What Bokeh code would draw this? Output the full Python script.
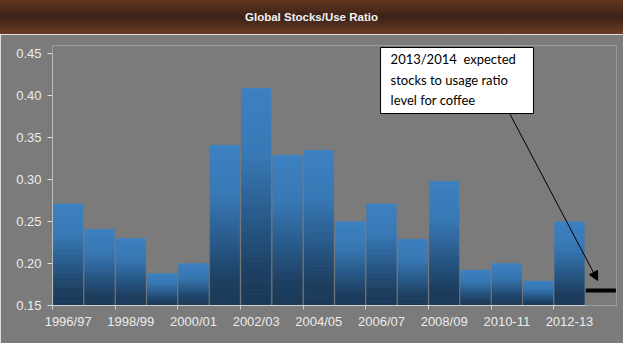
import numpy as np
from bokeh.plotting import figure
from bokeh.models import (ColumnDataSource, FixedTicker, NumeralTickFormatter, Div,
                          BoxAnnotation, Label, Arrow, NormalHead)
from bokeh.layouts import column
from bokeh.embed import file_html
from bokeh.resources import INLINE

# ---- data ----
seasons = ["1996/97", "1997/98", "1998/99", "1999/00", "2000/01", "2001/02",
           "2002/03", "2003/04", "2004/05", "2005/06", "2006/07", "2007/08",
           "2008/09", "2009-10", "2010-11", "2011-12", "2012-13"]
ratios = [0.271, 0.241, 0.230, 0.188, 0.200, 0.341, 0.409, 0.329, 0.335,
          0.250, 0.271, 0.229, 0.298, 0.192, 0.200, 0.179, 0.250]
forecast_season = "2013/14"
forecast_ratio = 0.168
y_ticks = [0.15, 0.20, 0.25, 0.30, 0.35, 0.40, 0.45]
title_text = "Global Stocks/Use Ratio"
note_lines = ["2013/2014\u00a0 expected", "stocks to usage ratio", "level for coffee"]

BASE = 0.15
n = len(seasons)

# ---- gradient bars (sliced quads, colours interpolated per bar) ----
stops_t = np.array([0.0, 0.3, 0.6, 0.85, 1.0])          # fraction from top
stops_c = np.array([[60, 129, 194], [56, 121, 183], [40, 90, 138],
                    [29, 63, 97], [27, 57, 88]], dtype=float)
NS = 40
lefts, rights, bottoms, tops, colors = [], [], [], [], []
for i, v in enumerate(ratios):
    edges = np.linspace(BASE, v, NS + 1)
    for k in range(NS):
        frac_top = 1 - (k + 0.5) / NS
        rgb = [np.interp(frac_top, stops_t, stops_c[:, c]) for c in range(3)]
        colors.append("#%02x%02x%02x" % tuple(int(round(x)) for x in rgb))
        lefts.append(i + 0.03)
        rights.append(i + 0.97)
        bottoms.append(edges[k])
        tops.append(edges[k + 1])
src = ColumnDataSource(dict(left=lefts, right=rights, bottom=bottoms, top=tops, color=colors))

BG = "#7b7b7b"
p = figure(width=623, height=309, output_backend="svg", toolbar_location=None,
           x_range=(0, n + 1), y_range=(0.15, 0.46),
           min_border_left=52, min_border_right=7, min_border_top=11, min_border_bottom=38)
p.background_fill_color = BG
p.border_fill_color = BG
p.outline_line_color = None
p.grid.visible = False

p.quad(left="left", right="right", bottom="bottom", top="top", source=src,
       fill_color="color", line_color="color", line_width=0.6)

# forecast level marker
fsrc = ColumnDataSource(dict(x0=[n + 0.02], x1=[n + 0.98], y=[forecast_ratio]))
p.segment(x0="x0", y0="y", x1="x1", y1="y", source=fsrc, line_color="black", line_width=4)

# ---- axes ----
LBL = "#ececec"
yax = p.yaxis[0]
yax.ticker = FixedTicker(ticks=y_ticks)
yax.formatter = NumeralTickFormatter(format="0.00")
yax.bounds = (0.15, 0.45)
yax.axis_line_color = "#dcdcdc"
yax.axis_line_dash = "1 1"
yax.major_tick_out = 5
yax.major_tick_in = 0
yax.major_tick_line_color = "#dcdcdc"
yax.minor_tick_line_color = None
yax.major_label_text_color = LBL
yax.major_label_text_font = "Liberation Sans"
yax.major_label_text_font_size = "13px"
yax.major_label_standoff = 6

xax = p.xaxis[0]
label_pos = [i + 0.5 for i in range(0, n, 2)]
xax.ticker = FixedTicker(ticks=label_pos, minor_ticks=[float(i) for i in range(0, n, 2)])
xax.major_label_overrides = {pos: seasons[int(pos)] for pos in label_pos}
xax.bounds = (0, n)
xax.axis_line_color = "#d0d0d0"
xax.major_tick_line_color = None
xax.minor_tick_line_color = "#d0d0d0"
xax.minor_tick_out = 4
xax.minor_tick_in = 0
xax.major_label_text_color = LBL
xax.major_label_text_font = "Liberation Sans"
xax.major_label_text_font_size = "13px"
xax.major_label_standoff = 2

# ---- callout ----
box = BoxAnnotation(left=10.47, right=15.35, top=0.4576, bottom=0.3789,
                    fill_color="white", fill_alpha=1.0, line_color="black",
                    line_alpha=1.0, line_width=1)
p.add_layout(box)
for j, (txt, yy) in enumerate(zip(note_lines, [0.4434, 0.4190, 0.3952])):
    p.add_layout(Label(x=10.79, y=yy, text=txt, text_font="Lato", text_font_size="13px",
                       text_color="black", text_baseline="middle"))
p.add_layout(Arrow(end=NormalHead(size=9, fill_color="black", line_color="black"),
                   x_start=14.59, y_start=0.3789, x_end=17.40, y_end=0.1798,
                   line_color="black", line_width=1))

# ---- title band ----
title = Div(text=('<div style="width:623px;height:34px;display:flex;align-items:center;'
                  'justify-content:center;color:#f2f2f2;font-family:\'Liberation Sans\',Arial;'
                  'font-weight:bold;font-size:11.5px;'
                  'background:linear-gradient(to bottom,#633521 0%,#3b2218 50%,#6d3c24 100%);">'
                  + title_text + '</div>'),
            width=623, height=34, margin=0)

layout = column(title, p, spacing=0)
open("out.html", "w").write(file_html(layout, INLINE))
